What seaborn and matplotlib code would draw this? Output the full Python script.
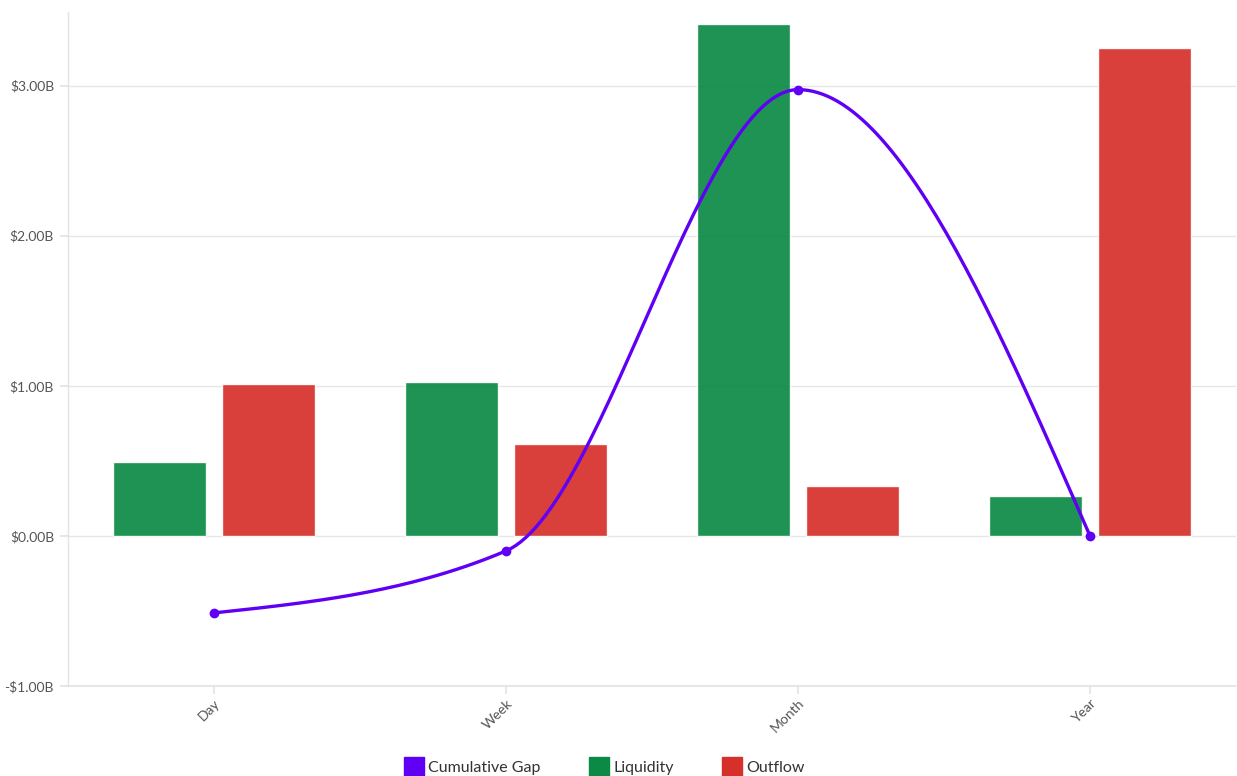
import numpy as np
import pandas as pd
import seaborn as sns
import matplotlib.pyplot as plt
from matplotlib.lines import Line2D
from matplotlib.ticker import FuncFormatter

# === Data (billions) ===
periods = ["Day", "Week", "Month", "Year"]
liquidity = [0.493, 1.027, 3.413, 0.267]
outflow = [1.013, 0.613, 0.333, 3.247]
cumulative_gap = [-0.513, -0.100, 2.973, 0.0]

purple = "#5f00f5"
green = "#0a8a45"
red = "#d6302a"

bars = pd.DataFrame({
    "period": periods * 2,
    "value": liquidity + outflow,
    "series": ["Liquidity"] * 4 + ["Outflow"] * 4,
})


def monotone_path(y, n=60):
    # monotone cubic (same idea as d3 curveMonotoneX) for drawing the line
    x = np.arange(len(y), dtype=float)
    y = np.asarray(y, dtype=float)
    s = np.diff(y)
    t = np.zeros(len(y))
    for i in range(1, len(y) - 1):
        p = (s[i - 1] + s[i]) / 2
        t[i] = (np.sign(s[i - 1]) + np.sign(s[i])) * min(abs(s[i - 1]), abs(s[i]), 0.5 * abs(p))
    t[0] = (3 * s[0] - t[1]) / 2
    t[-1] = (3 * s[-1] - t[-2]) / 2
    xs, ys = [], []
    for i in range(len(y) - 1):
        u = np.linspace(0, 1, n)
        h00 = 2 * u**3 - 3 * u**2 + 1
        h10 = u**3 - 2 * u**2 + u
        h01 = -2 * u**3 + 3 * u**2
        h11 = u**3 - u**2
        xs.append(x[i] + u)
        ys.append(h00 * y[i] + h10 * t[i] + h01 * y[i + 1] + h11 * t[i + 1])
    return np.concatenate(xs), np.concatenate(ys)


sns.set_theme(style="white")
plt.rcParams["font.family"] = ["Lato", "DejaVu Sans"]

fig = plt.figure(figsize=(12.37, 7.76), dpi=100)
ax = fig.add_axes([68 / 1237, 1 - 686 / 776, 1 - 69 / 1237, (686 - 12) / 776])

sns.barplot(data=bars, x="period", y="value", hue="series", order=periods,
            palette={"Liquidity": green, "Outflow": red}, width=0.745, gap=0.145,
            saturation=1, alpha=0.92, ax=ax, legend=False, zorder=2)

cx, cy = monotone_path(cumulative_gap)
ax.plot(cx, cy, color=purple, lw=2.4, zorder=4, solid_capstyle="round")
ax.plot(range(len(periods)), cumulative_gap, "o", color=purple, ms=6, zorder=5)

ax.set_xlim(-0.5, 3.5)
ax.set_ylim(-1.0, 3.49)
ax.set_yticks([-1, 0, 1, 2, 3])
ax.yaxis.set_major_formatter(FuncFormatter(lambda v, _: f"-${abs(v):.2f}B" if v < 0 else f"${v:.2f}B"))
ax.grid(axis="y", color="#e6e6e6", lw=1, zorder=0)
ax.axhline(-1.0, color="#e3e3e3", lw=1.2, zorder=1, clip_on=False)
ax.set_axisbelow(True)
ax.set_xlabel("")
ax.set_ylabel("")

for side in ["top", "right", "bottom"]:
    ax.spines[side].set_visible(False)
ax.spines["left"].set_color("#e3e3e3")
ax.spines["left"].set_linewidth(1)

ax.tick_params(axis="y", which="both", left=True, length=6, color="#e3e3e3",
               labelsize=10, labelcolor="#555555", pad=4)
ax.tick_params(axis="x", which="both", bottom=True, length=6, color="#e3e3e3",
               labelsize=10, labelcolor="#555555", pad=2)
for lbl in ax.get_xticklabels():
    lbl.set_rotation(45)
    lbl.set_ha("right")
    lbl.set_rotation_mode("anchor")

handles = [Line2D([], [], marker="s", ls="", color=c, ms=15) for c in (purple, green, red)]
fig.legend(handles, ["Cumulative Gap", "Liquidity", "Outflow"], loc="center",
           bbox_to_anchor=(604 / 1237, 1 - 768 / 776), ncol=3, frameon=False,
           fontsize=11.5, handletextpad=0.25, columnspacing=3.0, handlelength=1.3,
           labelcolor="#333333")

fig.savefig("out.png", dpi=100)
